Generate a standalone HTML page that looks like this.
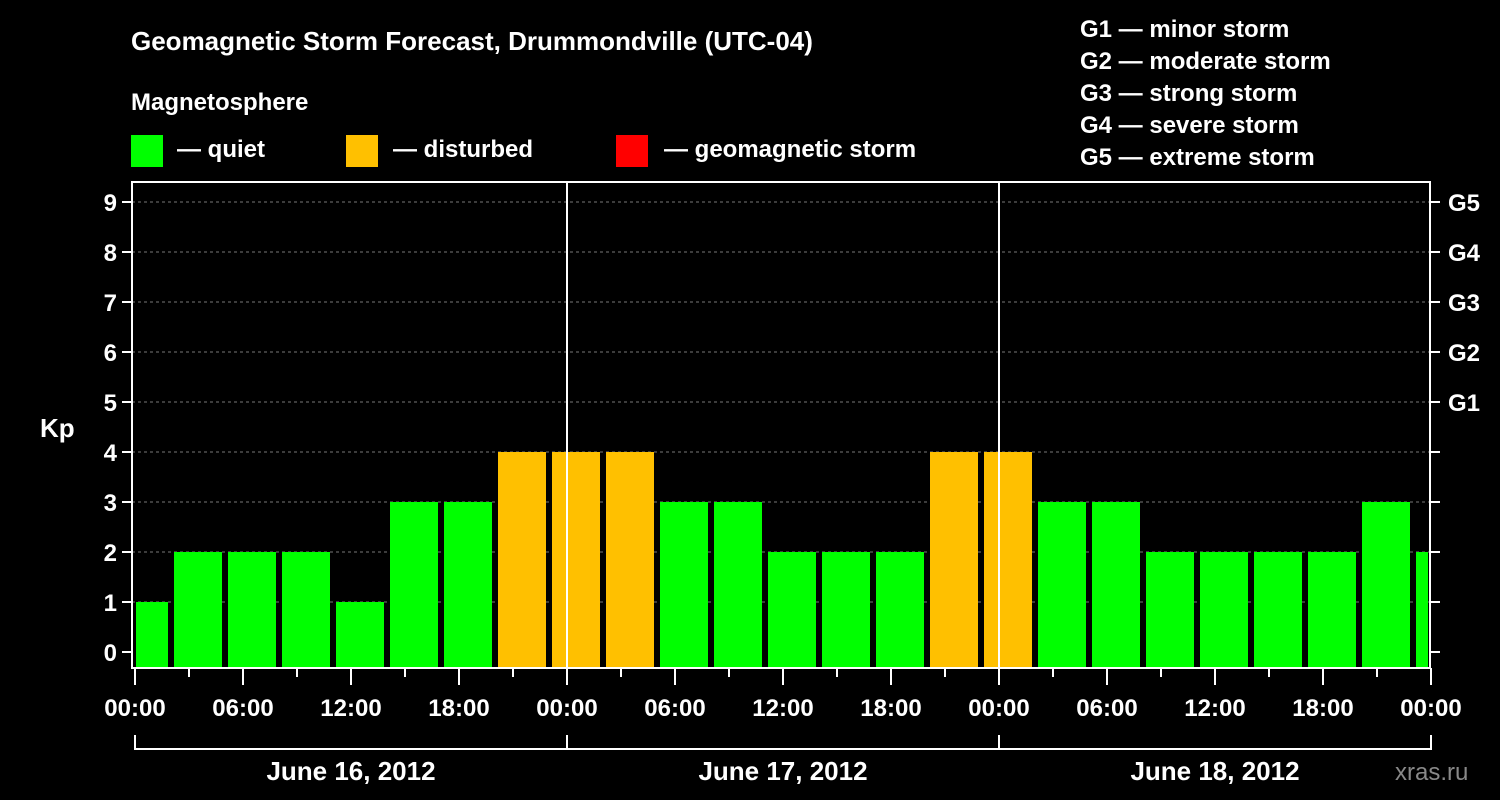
<!DOCTYPE html>
<html><head><meta charset="utf-8"><style>
body{margin:0;background:#000;}
svg{display:block;font-family:"Liberation Sans",Arial,sans-serif;font-weight:bold;}
</style></head><body>
<svg id="c" width="1500" height="800" viewBox="0 0 1500 800">
<rect width="1500" height="800" fill="#000"/>
<text x="131" y="50" fill="#fff" font-size="26">Geomagnetic Storm Forecast, Drummondville (UTC-04)</text>
<text x="131" y="110" fill="#fff" font-size="24">Magnetosphere</text>
<g><rect x="131" y="135" width="32" height="32" fill="#00ff00"/><text x="177" y="157" fill="#fff" font-size="24">— quiet</text></g>
<g><rect x="346" y="135" width="32" height="32" fill="#ffc000"/><text x="393" y="157" fill="#fff" font-size="24">— disturbed</text></g>
<g><rect x="616" y="135" width="32" height="32" fill="#ff0000"/><text x="664" y="157" fill="#fff" font-size="24">— geomagnetic storm</text></g>
<g fill="#fff" font-size="24">
<text x="1080" y="37">G1 — minor storm</text>
<text x="1080" y="69">G2 — moderate storm</text>
<text x="1080" y="101">G3 — strong storm</text>
<text x="1080" y="133">G4 — severe storm</text>
<text x="1080" y="165">G5 — extreme storm</text>
</g>
<text x="40" y="437" fill="#fff" font-size="26">Kp</text>
<text x="1395" y="780" fill="#888" font-size="24" font-weight="normal">xras.ru</text>
<g id="grid"></g><g id="bars"></g><g id="axes"></g>
</svg>
<script>
const kpValues=[1,2,2,2,1,3,3,4,4,4,3,3,2,2,2,4,4,3,3,2,2,2,2,3,2];
const slotStartHours=[-1,2,5,8,11,14,17,20,23,26,29,32,35,38,41,44,47,50,53,56,59,62,65,68,71];
const yTicks=[0,1,2,3,4,5,6,7,8,9];
const gLabels=["G1","G2","G3","G4","G5"];
const gLevels=[5,6,7,8,9];
const hourLabels=["00:00","06:00","12:00","18:00","00:00","06:00","12:00","18:00","00:00","06:00","12:00","18:00","00:00"];
const dayLabels=["June 16, 2012","June 17, 2012","June 18, 2012"];
const NS="http://www.w3.org/2000/svg";
const X0=135,PX_H=18,L=132,R=1430,T=182,B=668;
const x=h=>X0+h*PX_H, y=v=>652-v*50;
function mk(t,a,p){const e=document.createElementNS(NS,t);for(const k in a)e.setAttribute(k,a[k]);p.appendChild(e);return e;}
const grid=document.getElementById('grid'),bars=document.getElementById('bars'),axes=document.getElementById('axes');
yTicks.forEach(v=>{
 if(v>0){const g=mk('line',{x1:L,x2:R,y1:y(v),y2:y(v),stroke:'#777','stroke-dasharray':'3,3'},grid);
 
 }
 mk('line',{x1:L-10,x2:L,y1:y(v),y2:y(v),stroke:'#fff','stroke-width':2},axes);
 mk('line',{x1:R,x2:R+10,y1:y(v),y2:y(v),stroke:'#fff','stroke-width':2},axes);
 const t=mk('text',{x:L-15,y:y(v)+9,fill:'#fff','font-size':24,'text-anchor':'end'},axes);t.textContent=v;
 
 
});
gLevels.forEach((v,i)=>{const t=mk('text',{x:1448,y:y(v)+9,fill:'#fff','font-size':24},axes);t.textContent=gLabels[i];
 
 });
kpValues.forEach((v,i)=>{
 const s=slotStartHours[i];let x1=Math.max(x(s)+3,L+4),x2=Math.min(x(s+3)-3,R-2);
 const col=v>=5?'#ff0000':v>=4?'#ffc000':'#00ff00';
 const r=mk('rect',{x:x1,y:y(v),width:x2-x1,height:B-1-y(v),fill:col},bars);
 
 
});
[1,2].forEach(d=>mk('line',{x1:x(24*d),x2:x(24*d),y1:T,y2:B,stroke:'#fff','stroke-width':2},axes));
mk('rect',{x:L,y:T,width:R-L,height:B-T,fill:'none',stroke:'#fff','stroke-width':2},axes);
for(let h=0;h<=72;h+=3){mk('line',{x1:x(h),x2:x(h),y1:B,y2:B+(h%6==0?17:9),stroke:'#fff','stroke-width':2},axes);}
hourLabels.forEach((l,i)=>{const t=mk('text',{x:x(i*6),y:716,fill:'#fff','font-size':24,'text-anchor':'middle'},axes);t.textContent=l;
 
 });
dayLabels.forEach((l,i)=>{
 mk('path',{d:`M${x(24*i)},735V749H${x(24*i+24)}V735`,fill:'none',stroke:'#fff','stroke-width':2},axes);
 const t=mk('text',{x:x(24*i+12),y:780,fill:'#fff','font-size':26,'text-anchor':'middle'},axes);t.textContent=l;
 
 
});
</script>
</body></html>
